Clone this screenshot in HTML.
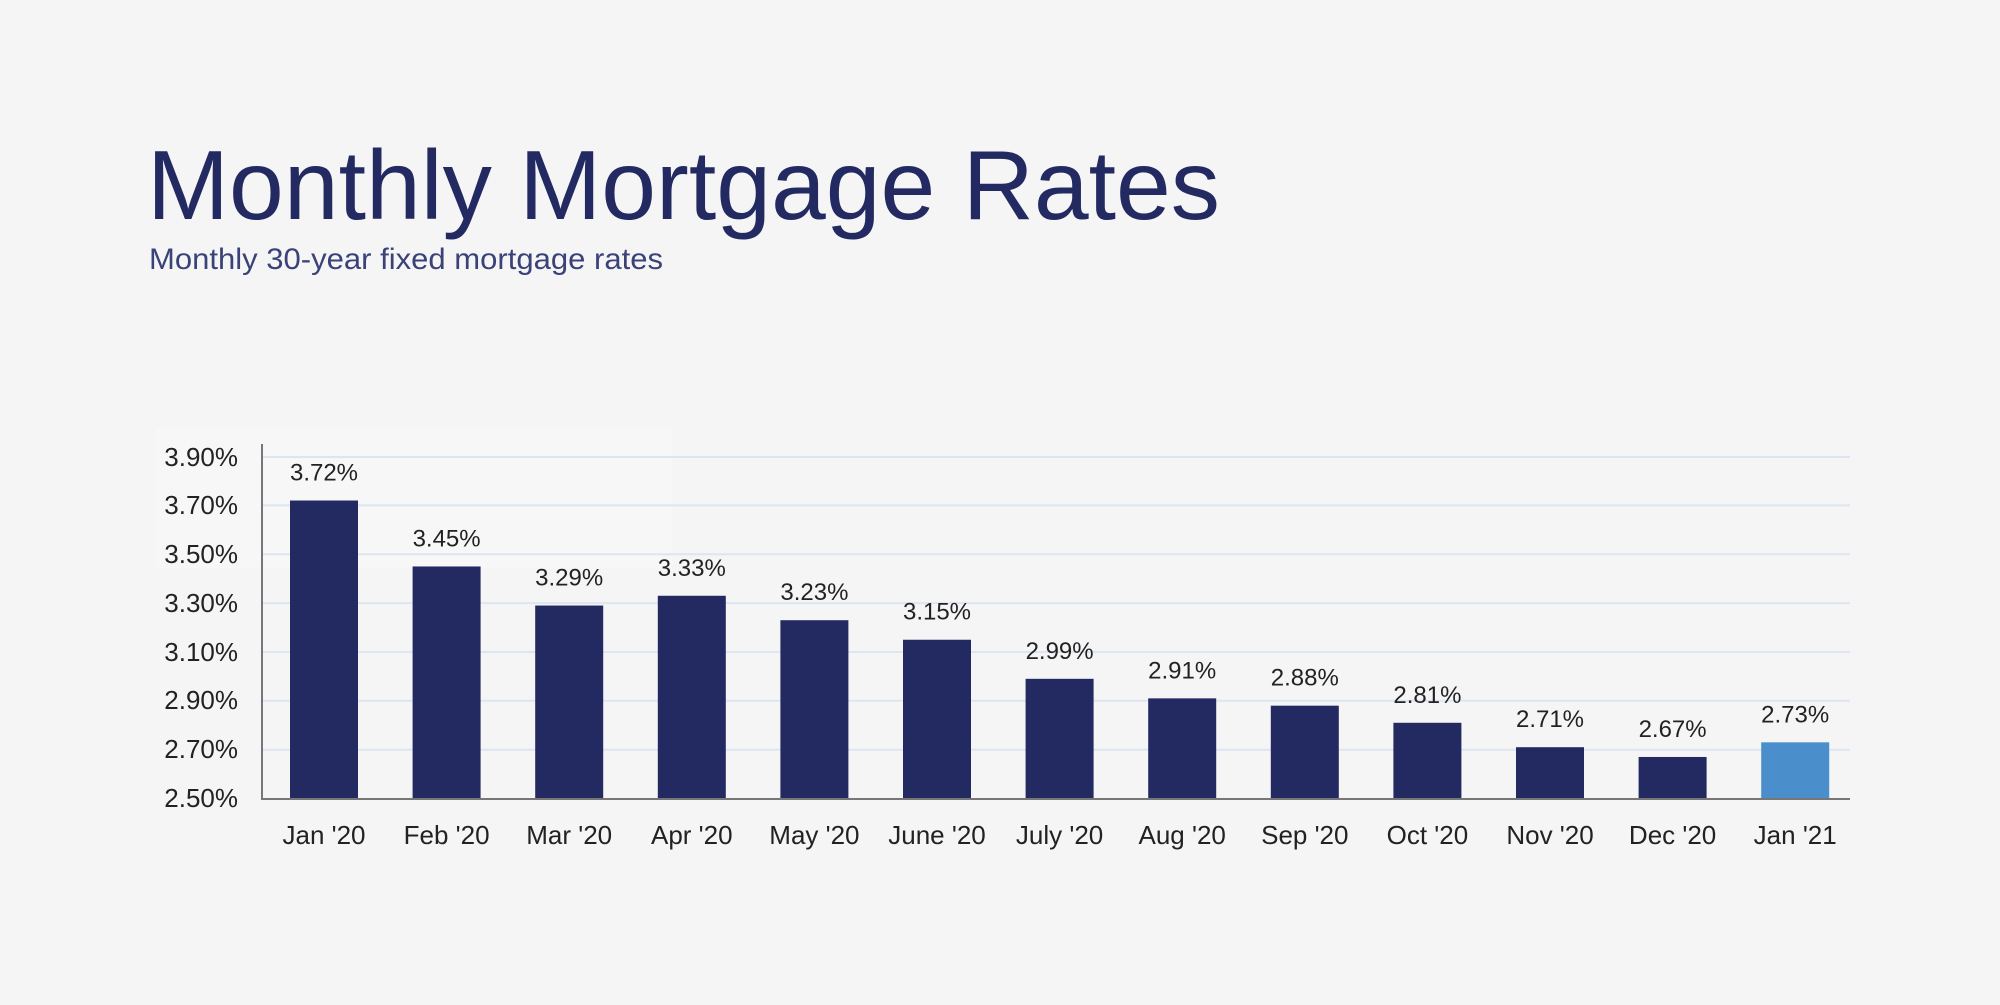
<!DOCTYPE html><html><head><meta charset="utf-8"><style>
body{margin:0;background:#f5f5f5;width:2000px;height:1000px;overflow:hidden;font-family:"Liberation Sans",sans-serif}
</style></head><body>
<svg width="2000" height="1000" xmlns="http://www.w3.org/2000/svg" font-family="Liberation Sans, sans-serif">
<rect width="2000" height="1000" fill="#f5f5f5"/>
<rect x="156" y="428" width="516" height="140" fill="#f7f7f7"/>
<text x="147" y="219" font-size="98" fill="#232a62" textLength="1073" lengthAdjust="spacingAndGlyphs">Monthly Mortgage Rates</text>
<text x="149" y="269" font-size="30" fill="#3a4278" textLength="514" lengthAdjust="spacingAndGlyphs">Monthly 30-year fixed mortgage rates</text>
<g stroke="#dde5f1" stroke-width="2">
<line x1="262" x2="1850" y1="457" y2="457"/><line x1="262" x2="1850" y1="505.4" y2="505.4"/>
<line x1="262" x2="1850" y1="554.3" y2="554.3"/><line x1="262" x2="1850" y1="603.1" y2="603.1"/>
<line x1="262" x2="1850" y1="652" y2="652"/><line x1="262" x2="1850" y1="700.8" y2="700.8"/>
<line x1="262" x2="1850" y1="749.7" y2="749.7"/>
</g>
<g font-size="26" fill="#222" text-anchor="end">
<text x="238" y="466">3.90%</text><text x="238" y="514">3.70%</text><text x="238" y="563">3.50%</text>
<text x="238" y="612">3.30%</text><text x="238" y="661">3.10%</text><text x="238" y="709">2.90%</text>
<text x="238" y="758">2.70%</text><text x="238" y="807">2.50%</text>
</g>
<g id="bars"></g>
<line x1="262" y1="444" x2="262" y2="799" stroke="#777" stroke-width="2"/>
<line x1="261" y1="799" x2="1850" y2="799" stroke="#777" stroke-width="2"/>
<g id="labs" font-size="24" fill="#222" text-anchor="middle"></g>
</svg>
<script>
var v=[3.72,3.45,3.29,3.33,3.23,3.15,2.99,2.91,2.88,2.81,2.71,2.67,2.73];
var n=["Jan '20","Feb '20","Mar '20","Apr '20","May '20","June '20","July '20","Aug '20","Sep '20","Oct '20","Nov '20","Dec '20","Jan '21"];
var b=document.getElementById("bars"),l=document.getElementById("labs"),ns="http://www.w3.org/2000/svg";
for(var i=0;i<13;i++){var cx=324+i*122.6,y=798.5-(v[i]-2.5)/0.2*48.85;
var r=document.createElementNS(ns,"rect");r.setAttribute("x",cx-34);r.setAttribute("y",y);r.setAttribute("width",68);r.setAttribute("height",798.5-y);r.setAttribute("fill",i==12?"#4a8fcb":"#232a62");b.appendChild(r);
var t=document.createElementNS(ns,"text");t.setAttribute("x",cx);t.setAttribute("y",y-20);t.textContent=v[i].toFixed(2)+"%";l.appendChild(t);
var t2=document.createElementNS(ns,"text");t2.setAttribute("x",cx);t2.setAttribute("y",844);t2.setAttribute("font-size","26");t2.textContent=n[i];l.appendChild(t2);}
</script>
</body></html>
